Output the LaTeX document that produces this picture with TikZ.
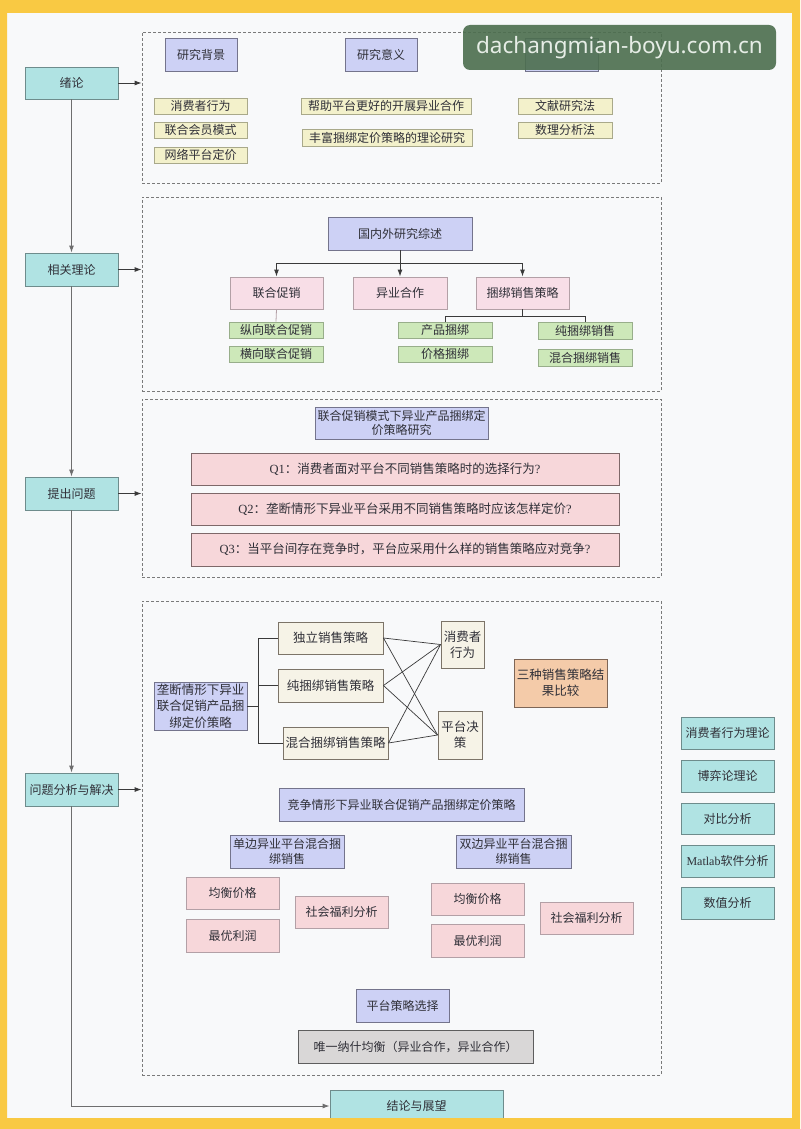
\documentclass[tikz,border=0pt]{standalone}
\usepackage{fontspec}
\setmainfont{Noto Sans CJK SC}
\newfontfamily\lserif{Liberation Serif}
\newfontfamily\wmfont{Noto Sans}
\usetikzlibrary{arrows.meta}
\definecolor{bgY}{HTML}{F9C943}
\definecolor{panel}{HTML}{F8F9FA}
\definecolor{txt}{HTML}{303038}
\definecolor{tealF}{HTML}{B0E3E3}\definecolor{tealD}{HTML}{6E8C8C}
\definecolor{lavF}{HTML}{CDD1F5}\definecolor{lavD}{HTML}{74748C}
\definecolor{ylwF}{HTML}{F3F1CB}\definecolor{ylwD}{HTML}{A9A98A}
\definecolor{pnkF}{HTML}{F8DEE7}\definecolor{pnkD}{HTML}{B3A0A6}
\definecolor{grnF}{HTML}{CDE8B9}\definecolor{grnD}{HTML}{98AE8A}
\definecolor{qF}{HTML}{F7D7DA}\definecolor{qD}{HTML}{7E6869}
\definecolor{bgeF}{HTML}{F6F3E7}\definecolor{bgeD}{HTML}{7C7468}
\definecolor{orgF}{HTML}{F4CBA9}\definecolor{orgD}{HTML}{7E6656}
\definecolor{gryF}{HTML}{D9D7D7}\definecolor{gryD}{HTML}{5E5E5E}
\definecolor{frameC}{HTML}{7A7A7A}
\definecolor{lineD}{HTML}{3A3A3A}
\definecolor{lineG}{HTML}{6E6E6E}
\definecolor{wmF}{HTML}{4C6E4E}
\definecolor{wmT}{HTML}{E6EDE6}
\begin{document}
\begin{tikzpicture}[x=1pt,y=-1pt,
  base/.style={inner sep=0pt, align=center, text=txt, line width=0.9pt, font=\fontsize{12}{14}\selectfont},
  sz/.style 2 args={minimum width=#1pt, minimum height=#2pt},
  tealbox/.style={base, draw=tealD, fill=tealF},
  lavbox/.style={base, draw=lavD, fill=lavF},
  ylwbox/.style={base, draw=ylwD, fill=ylwF},
  pnkbox/.style={base, draw=pnkD, fill=pnkF},
  grnbox/.style={base, draw=grnD, fill=grnF},
  qbox/.style={base, draw=qD, fill=qF},
  bgebox/.style={base, draw=bgeD, fill=bgeF, font=\fontsize{12.5}{16}\selectfont},
  orgbox/.style={base, draw=orgD, fill=orgF, font=\fontsize{12.5}{16}\selectfont},
  grybox/.style={base, draw=gryD, fill=gryF},
  frame/.style={draw=frameC, dash pattern=on 3pt off 2pt, line width=0.8pt, inner sep=0pt},
  arr/.style={-{Latex[length=7pt,width=5pt]}, draw=lineD, line width=0.9pt},
  garr/.style={-{Latex[length=7pt,width=5pt]}, draw=lineG, line width=0.9pt},
  ln/.style={draw=lineD, line width=0.9pt},
  thin/.style={draw=lineD, line width=0.7pt},
  pale/.style={draw=pnkD, line width=0.8pt}
]
\useasboundingbox (0,0) rectangle (800,1129);
\fill[bgY] (0,0) rectangle (800,1129);
\fill[panel] (7,13) rectangle (792,1118);

% dashed frames
\node[frame, sz={519}{151}] (f1) at (401.5,107.5) {};
\node[frame, sz={519}{194}] (f2) at (401.5,294) {};
\node[frame, sz={519}{178}] (f3) at (401.5,488) {};
\node[frame, sz={519}{474}] (f4) at (401.5,838) {};

% left column
\node[tealbox, sz={93}{32}] (xulun) at (71.5,83) {绪论};
\node[tealbox, sz={93}{33}] (xiangguan) at (71.5,269.5) {相关理论};
\node[tealbox, sz={93}{33}] (tichu) at (71.5,493.5) {提出问题};
\node[tealbox, sz={93}{33}] (fenxi) at (71.5,789.5) {问题分析与解决};
\node[tealbox, sz={173}{32}] (jielun) at (416.5,1106) {结论与展望};

\draw[garr] (xulun.south) -- (xiangguan.north);
\draw[garr] (xiangguan.south) -- (tichu.north);
\draw[garr] (tichu.south) -- (fenxi.north);
\draw[garr] (fenxi.south) -- (fenxi.south |- jielun.west) -- (jielun.west);

\draw[arr] (xulun.east) -- (xulun.east -| f1.west);
\draw[arr] (xiangguan.east) -- (xiangguan.east -| f2.west);
\draw[arr] (tichu.east) -- (tichu.east -| f3.west);
\draw[arr] (fenxi.east) -- (fenxi.east -| f4.west);

% frame 1
\node[lavbox, sz={72}{33}] (bj) at (201,54.5) {研究背景};
\node[lavbox, sz={72}{33}] (yy) at (381,54.5) {研究意义};
\node[lavbox, sz={73}{33}] (ff) at (561.5,54.5) {};
\node[ylwbox, sz={93}{16}] (y1) at (200.5,106) {消费者行为};
\node[ylwbox, sz={93}{16}] (y2) at (200.5,130) {联合会员模式};
\node[ylwbox, sz={93}{16}] (y3) at (200.5,155) {网络平台定价};
\node[ylwbox, sz={170}{16}] (y4) at (386,106) {帮助平台更好的开展异业合作};
\node[ylwbox, sz={170}{17}] (y5) at (387,137.5) {丰富捆绑定价策略的理论研究};
\node[ylwbox, sz={94}{16}] (y6) at (565,106) {文献研究法};
\node[ylwbox, sz={94}{16}] (y7) at (565,130) {数理分析法};

% frame 2
\node[lavbox, sz={144}{33}] (gn) at (400,233.5) {国内外研究综述};
\node[pnkbox, sz={93}{32}] (lx) at (276.5,293) {联合促销};
\node[pnkbox, sz={94}{32}] (yh) at (400,293) {异业合作};
\node[pnkbox, sz={93}{32}] (kb) at (522.5,293) {捆绑销售策略};
\draw[ln] (gn.south) -- ++(0,13) coordinate (br);
\draw[ln] (lx.north |- br) -- (kb.north |- br);
\draw[arr] (lx.north |- br) -- (lx.north);
\draw[arr] (br) -- (yh.north);
\draw[arr] (kb.north |- br) -- (kb.north);
\node[grnbox, sz={94}{16}] (zx) at (276,330) {纵向联合促销};
\node[grnbox, sz={94}{16}] (hx) at (276,354) {横向联合促销};
\draw[pale] (lx.south) -- (zx.north);
\node[grnbox, sz={94}{16}] (cp) at (445,330) {产品捆绑};
\node[grnbox, sz={94}{16}] (jg) at (445,354) {价格捆绑};
\node[grnbox, sz={94}{17}] (ck) at (585,330.5) {纯捆绑销售};
\node[grnbox, sz={94}{17}] (hh) at (585,357.5) {混合捆绑销售};
\draw[ln] (kb.south) -- ++(0,7) coordinate (br2);
\draw[ln] (cp.north) -- (cp.north |- br2) -- (ck.north |- br2) -- (ck.north);

% frame 3
\node[lavbox, sz={173}{32}] (yj) at (401.5,423) {联合促销模式下异业产品捆绑定\\价策略研究};
\node[qbox, sz={428}{32}, font=\fontsize{12.5}{14}\selectfont] (q1) at (405,469) {{\lserif Q1}：消费者面对平台不同销售策略时的选择行为{\lserif ?}};
\node[qbox, sz={428}{32}, font=\fontsize{12.5}{14}\selectfont] (q2) at (405,509) {{\lserif Q2}：垄断情形下异业平台采用不同销售策略时应该怎样定价{\lserif ?}};
\node[qbox, sz={428}{33}, font=\fontsize{12.5}{14}\selectfont] (q3) at (405,549.5) {{\lserif Q3}：当平台间存在竞争时，平台应采用什么样的销售策略应对竞争{\lserif ?}};

% frame 4
\node[lavbox, sz={93}{48}, font=\fontsize{12.5}{16.5}\selectfont] (ld) at (200.5,706) {垄断情形下异业\\联合促销产品捆\\绑定价策略};
\node[bgebox, sz={105}{32}] (dl) at (330.5,638) {独立销售策略};
\node[bgebox, sz={105}{33}] (cb) at (330.5,685.5) {纯捆绑销售策略};
\node[bgebox, sz={105}{32}] (hb) at (335.5,743) {混合捆绑销售策略};
\draw[ln] (ld.east) -- (258,706) coordinate (tr);
\draw[ln] (dl.west) -- (dl.west -| tr) -- (hb.west -| tr) -- (hb.west);
\draw[ln] (cb.west) -- (cb.west -| tr);
\node[bgebox, sz={43}{47}] (xf) at (462.5,644.5) {消费者\\行为};
\node[bgebox, sz={44}{48}] (pt) at (460,735) {平台决\\策};
\foreach \s in {dl,cb,hb}{
  \draw[thin] (\s.east) -- (xf.west);
  \draw[thin] (\s.east) -- (pt.west);
}
\node[orgbox, sz={93}{48}] (sz3) at (560.5,683) {三种销售策略结\\果比较};
\node[lavbox, sz={245}{33}] (jz) at (401.5,804.5) {竞争情形下异业联合促销产品捆绑定价策略};
\node[lavbox, sz={114}{33}, font=\fontsize{12}{15}\selectfont] (db) at (287,851.5) {单边异业平台混合捆\\绑销售};
\node[lavbox, sz={115}{33}, font=\fontsize{12}{15}\selectfont] (sb) at (513.5,851.5) {双边异业平台混合捆\\绑销售};
\node[qbox, draw=pnkD, sz={93}{32}] (jl1) at (232.5,893) {均衡价格};
\node[qbox, draw=pnkD, sz={93}{33}] (zl1) at (232.5,935.5) {最优利润};
\node[qbox, draw=pnkD, sz={93}{32}] (sh1) at (341.5,912) {社会福利分析};
\node[qbox, draw=pnkD, sz={93}{32}] (jl2) at (477.5,899) {均衡价格};
\node[qbox, draw=pnkD, sz={93}{33}] (zl2) at (477.5,940.5) {最优利润};
\node[qbox, draw=pnkD, sz={93}{32}] (sh2) at (586.5,918) {社会福利分析};
\node[lavbox, sz={93}{33}] (xz) at (402.5,1005.5) {平台策略选择};
\node[grybox, sz={235}{33}] (nash) at (415.5,1046.5) {唯一纳什均衡（异业合作，异业合作）};

% right column
\node[tealbox, sz={93}{32}] (r1) at (727.5,733) {消费者行为理论};
\node[tealbox, sz={93}{32}] (r2) at (727.5,776) {博弈论理论};
\node[tealbox, sz={93}{31}] (r3) at (727.5,818.5) {对比分析};
\node[tealbox, sz={93}{32}] (r4) at (727.5,861) {{\lserif Matlab}软件分析};
\node[tealbox, sz={93}{32}] (r5) at (727.5,903) {数值分析};

% watermark
\node[rounded corners=7pt, fill=wmF, fill opacity=0.9, text opacity=1, text=wmT, inner sep=0pt, sz={313}{45}, font=\wmfont\fontsize{22.5}{26}\selectfont] (wm) at (619.5,47.5) {dachangmian-boyu.com.cn};

% yellow border on top
\fill[bgY, even odd rule] (0,0) rectangle (800,1129) (7,13) rectangle (792,1118);
\end{tikzpicture}
\end{document}
